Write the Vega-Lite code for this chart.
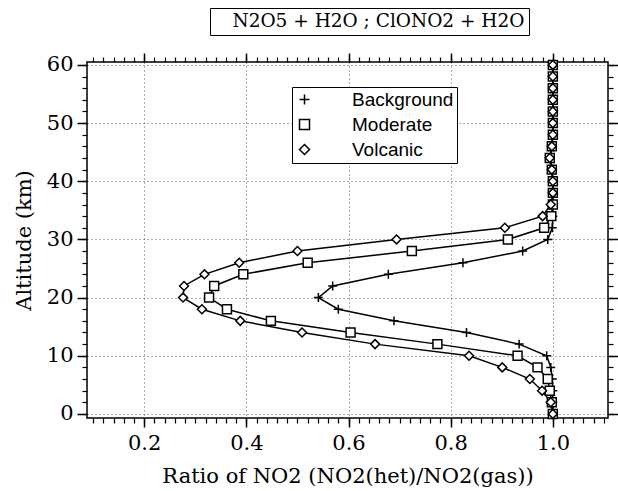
{
  "$schema": "https://vega.github.io/schema/vega-lite/v6.json",
  "autosize": {"type": "none"},
  "padding": {"left": 87, "top": 62, "right": 10, "bottom": 73},
  "width": 521,
  "height": 356,
  "background": "white",
  "datasets": {
    "profiles": [
      {"series": "Background", "alt": 0, "ratio": 1.0},
      {"series": "Background", "alt": 2, "ratio": 1.0},
      {"series": "Background", "alt": 4, "ratio": 1.0},
      {"series": "Background", "alt": 6, "ratio": 0.999},
      {"series": "Background", "alt": 8, "ratio": 0.996},
      {"series": "Background", "alt": 10, "ratio": 0.988},
      {"series": "Background", "alt": 12, "ratio": 0.934},
      {"series": "Background", "alt": 14, "ratio": 0.831},
      {"series": "Background", "alt": 16, "ratio": 0.689},
      {"series": "Background", "alt": 18, "ratio": 0.58},
      {"series": "Background", "alt": 20, "ratio": 0.541},
      {"series": "Background", "alt": 22, "ratio": 0.569},
      {"series": "Background", "alt": 24, "ratio": 0.678},
      {"series": "Background", "alt": 26, "ratio": 0.824},
      {"series": "Background", "alt": 28, "ratio": 0.941},
      {"series": "Background", "alt": 30, "ratio": 0.99},
      {"series": "Background", "alt": 32, "ratio": 0.999},
      {"series": "Background", "alt": 34, "ratio": 1.0},
      {"series": "Background", "alt": 36, "ratio": 1.0},
      {"series": "Background", "alt": 38, "ratio": 1.0},
      {"series": "Background", "alt": 40, "ratio": 1.0},
      {"series": "Background", "alt": 42, "ratio": 0.998},
      {"series": "Background", "alt": 44, "ratio": 0.994},
      {"series": "Background", "alt": 46, "ratio": 0.998},
      {"series": "Background", "alt": 48, "ratio": 1.0},
      {"series": "Background", "alt": 50, "ratio": 1.0},
      {"series": "Background", "alt": 52, "ratio": 1.0},
      {"series": "Background", "alt": 54, "ratio": 1.0},
      {"series": "Background", "alt": 56, "ratio": 1.0},
      {"series": "Background", "alt": 58, "ratio": 1.0},
      {"series": "Background", "alt": 60, "ratio": 1.0},
      {"series": "Moderate", "alt": 0, "ratio": 1.0},
      {"series": "Moderate", "alt": 2, "ratio": 0.998},
      {"series": "Moderate", "alt": 4, "ratio": 0.994},
      {"series": "Moderate", "alt": 6, "ratio": 0.99},
      {"series": "Moderate", "alt": 8, "ratio": 0.97},
      {"series": "Moderate", "alt": 10, "ratio": 0.931},
      {"series": "Moderate", "alt": 12, "ratio": 0.774},
      {"series": "Moderate", "alt": 14, "ratio": 0.604},
      {"series": "Moderate", "alt": 16, "ratio": 0.448},
      {"series": "Moderate", "alt": 18, "ratio": 0.362},
      {"series": "Moderate", "alt": 20, "ratio": 0.327},
      {"series": "Moderate", "alt": 22, "ratio": 0.337},
      {"series": "Moderate", "alt": 24, "ratio": 0.394},
      {"series": "Moderate", "alt": 26, "ratio": 0.52},
      {"series": "Moderate", "alt": 28, "ratio": 0.724},
      {"series": "Moderate", "alt": 30, "ratio": 0.912},
      {"series": "Moderate", "alt": 32, "ratio": 0.983},
      {"series": "Moderate", "alt": 34, "ratio": 0.997},
      {"series": "Moderate", "alt": 36, "ratio": 1.0},
      {"series": "Moderate", "alt": 38, "ratio": 1.0},
      {"series": "Moderate", "alt": 40, "ratio": 1.0},
      {"series": "Moderate", "alt": 42, "ratio": 0.998},
      {"series": "Moderate", "alt": 44, "ratio": 0.994},
      {"series": "Moderate", "alt": 46, "ratio": 0.998},
      {"series": "Moderate", "alt": 48, "ratio": 1.0},
      {"series": "Moderate", "alt": 50, "ratio": 1.0},
      {"series": "Moderate", "alt": 52, "ratio": 1.0},
      {"series": "Moderate", "alt": 54, "ratio": 1.0},
      {"series": "Moderate", "alt": 56, "ratio": 1.0},
      {"series": "Moderate", "alt": 58, "ratio": 1.0},
      {"series": "Moderate", "alt": 60, "ratio": 1.0},
      {"series": "Volcanic", "alt": 0, "ratio": 1.0},
      {"series": "Volcanic", "alt": 2, "ratio": 0.996},
      {"series": "Volcanic", "alt": 4, "ratio": 0.979},
      {"series": "Volcanic", "alt": 6, "ratio": 0.955},
      {"series": "Volcanic", "alt": 8, "ratio": 0.901},
      {"series": "Volcanic", "alt": 10, "ratio": 0.836},
      {"series": "Volcanic", "alt": 12, "ratio": 0.652},
      {"series": "Volcanic", "alt": 14, "ratio": 0.509},
      {"series": "Volcanic", "alt": 16, "ratio": 0.388},
      {"series": "Volcanic", "alt": 18, "ratio": 0.313},
      {"series": "Volcanic", "alt": 20, "ratio": 0.276},
      {"series": "Volcanic", "alt": 22, "ratio": 0.278},
      {"series": "Volcanic", "alt": 24, "ratio": 0.318},
      {"series": "Volcanic", "alt": 26, "ratio": 0.386},
      {"series": "Volcanic", "alt": 28, "ratio": 0.5},
      {"series": "Volcanic", "alt": 30, "ratio": 0.694},
      {"series": "Volcanic", "alt": 32, "ratio": 0.906},
      {"series": "Volcanic", "alt": 34, "ratio": 0.98},
      {"series": "Volcanic", "alt": 36, "ratio": 0.996},
      {"series": "Volcanic", "alt": 38, "ratio": 1.0},
      {"series": "Volcanic", "alt": 40, "ratio": 1.0},
      {"series": "Volcanic", "alt": 42, "ratio": 0.998},
      {"series": "Volcanic", "alt": 44, "ratio": 0.994},
      {"series": "Volcanic", "alt": 46, "ratio": 0.998},
      {"series": "Volcanic", "alt": 48, "ratio": 1.0},
      {"series": "Volcanic", "alt": 50, "ratio": 1.0},
      {"series": "Volcanic", "alt": 52, "ratio": 1.0},
      {"series": "Volcanic", "alt": 54, "ratio": 1.0},
      {"series": "Volcanic", "alt": 56, "ratio": 1.0},
      {"series": "Volcanic", "alt": 58, "ratio": 1.0},
      {"series": "Volcanic", "alt": 60, "ratio": 1.0}
    ],
    "scenario": [{"reactions": "N2O5 + H2O ; ClONO2 + H2O"}]
  },
  "layer": [
    {
      "data": {"name": "profiles"},
      "mark": {"type": "line", "color": "black", "strokeWidth": 1.5},
      "encoding": {
        "x": {"field": "ratio", "type": "quantitative",
              "scale": {"domain": [0.088, 1.108], "nice": false, "zero": false},
              "axis": {"orient": "bottom", "values": [0.2, 0.4, 0.6, 0.8, 1.0], "format": ".1f",
                       "tickSize": 9, "tickWidth": 1.5, "labelPadding": 5, "grid": true,
                       "title": "Ratio of NO2 (NO2(het)/NO2(gas))", "titlePadding": 12}},
        "y": {"field": "alt", "type": "quantitative",
              "scale": {"domain": [-0.7, 60.5], "nice": false, "zero": false},
              "axis": {"orient": "left", "values": [0, 10, 20, 30, 40, 50, 60],
                       "tickSize": 10, "tickWidth": 1.5, "labelPadding": 4, "grid": true,
                       "title": "Altitude (km)", "titlePadding": 12}},
        "detail": {"field": "series", "type": "nominal"},
        "order": {"field": "alt", "type": "quantitative"}
      }
    },
    {
      "data": {"name": "profiles"},
      "mark": {"type": "point", "filled": false, "color": "black", "fill": "white", "fillOpacity": 1, "strokeWidth": 1.5, "size": 80},
      "encoding": {
        "x": {"field": "ratio", "type": "quantitative",
              "axis": {"orient": "bottom", "values": [0.1, 0.12, 0.14, 0.16, 0.18, 0.2, 0.22, 0.24, 0.26, 0.28, 0.3, 0.32, 0.34, 0.36, 0.38, 0.4, 0.42, 0.44, 0.46, 0.48, 0.5, 0.52, 0.54, 0.56, 0.58, 0.6, 0.62, 0.64, 0.66, 0.68, 0.7, 0.72, 0.74, 0.76, 0.78, 0.8, 0.82, 0.84, 0.86, 0.88, 0.9, 0.92, 0.94, 0.96, 0.98, 1.0, 1.02, 1.04, 1.06, 1.08, 1.1],
                       "tickSize": 5, "tickWidth": 1.2, "labels": false, "grid": false, "title": null}},
        "y": {"field": "alt", "type": "quantitative",
              "axis": {"orient": "left", "values": [0, 2, 4, 6, 8, 10, 12, 14, 16, 18, 20, 22, 24, 26, 28, 30, 32, 34, 36, 38, 40, 42, 44, 46, 48, 50, 52, 54, 56, 58, 60],
                       "tickSize": 5, "tickWidth": 1.2, "labels": false, "grid": false, "title": null}},
        "shape": {"field": "series", "type": "nominal",
                  "scale": {"domain": ["Background", "Moderate", "Volcanic"], "range": ["M-1,0H1M0,-1V1", "square", "diamond"]},
                  "legend": {"orient": "none", "legendX": 205, "legendY": 25, "title": null,
                             "strokeColor": "black", "fillColor": "white", "padding": 3,
                             "symbolSize": 100,
                             "labelFont": "Liberation Sans", "labelFontSize": 19, "labelColor": "black", "labelOffset": 38, "rowPadding": 5,
                             "encode": {"symbols": {"shape": {"value": {"signal": "datum.value === 'Background' ? 'M-1.6,0H6.4M2.4,-1.2V1.2' : datum.value === 'Moderate' ? 'M-1.6,0H1.4M3.4,0H6.4M1.4,-1H3.4V1H1.4Z' : 'M-1.6,0H1.3M3.5,0H6.4M2.4,-1.1L3.5,0L2.4,1.1L1.3,0Z'"}}}}}}
      }
    },
    {
      "data": {"name": "profiles"},
      "mark": {"type": "point", "opacity": 0},
      "encoding": {
        "x": {"field": "ratio", "type": "quantitative",
              "axis": {"orient": "top", "values": [0.2, 0.4, 0.6, 0.8, 1.0], "tickSize": 9, "tickWidth": 1.5, "labels": false, "grid": false, "title": null}},
        "y": {"field": "alt", "type": "quantitative",
              "axis": {"orient": "right", "values": [0, 10, 20, 30, 40, 50, 60], "tickSize": 10, "tickWidth": 1.5, "labels": false, "grid": false, "title": null}}
      }
    },
    {
      "data": {"name": "profiles"},
      "mark": {"type": "point", "opacity": 0},
      "encoding": {
        "x": {"field": "ratio", "type": "quantitative",
              "axis": {"orient": "top", "values": [0.1, 0.12, 0.14, 0.16, 0.18, 0.2, 0.22, 0.24, 0.26, 0.28, 0.3, 0.32, 0.34, 0.36, 0.38, 0.4, 0.42, 0.44, 0.46, 0.48, 0.5, 0.52, 0.54, 0.56, 0.58, 0.6, 0.62, 0.64, 0.66, 0.68, 0.7, 0.72, 0.74, 0.76, 0.78, 0.8, 0.82, 0.84, 0.86, 0.88, 0.9, 0.92, 0.94, 0.96, 0.98, 1.0, 1.02, 1.04, 1.06, 1.08, 1.1],
                       "tickSize": 5, "tickWidth": 1.2, "labels": false, "grid": false, "title": null}},
        "y": {"field": "alt", "type": "quantitative",
              "axis": {"orient": "right", "values": [0, 2, 4, 6, 8, 10, 12, 14, 16, 18, 20, 22, 24, 26, 28, 30, 32, 34, 36, 38, 40, 42, 44, 46, 48, 50, 52, 54, 56, 58, 60],
                       "tickSize": 5, "tickWidth": 1.2, "labels": false, "grid": false, "title": null}}
      }
    },
    {
      "data": {"name": "scenario"},
      "mark": {"type": "point", "opacity": 0},
      "encoding": {
        "color": {"field": "reactions", "type": "nominal", "scale": {"range": ["black"]},
                  "legend": {"orient": "none", "legendX": 123, "legendY": -54, "title": null,
                             "strokeColor": "black", "fillColor": "white", "padding": 4,
                             "symbolSize": 0, "symbolOpacity": 0, "symbolStrokeWidth": 0, "labelOffset": 0,
                             "labelFont": "DejaVu Serif", "labelFontSize": 18.5, "labelColor": "black", "labelLimit": 0}}
      }
    }
  ],
  "resolve": {"axis": {"x": "independent", "y": "independent"}},
  "config": {
    "view": {"stroke": "black", "strokeWidth": 1.5},
    "axis": {"domain": false, "tickColor": "black", "labelColor": "black", "titleColor": "black",
             "labelFont": "DejaVu Serif", "titleFont": "DejaVu Serif", "labelFontSize": 21, "titleFontSize": 21,
             "titleFontWeight": "normal", "gridColor": "#333333", "gridDash": [1, 3], "gridOpacity": 0.8, "gridWidth": 1}
  }
}
